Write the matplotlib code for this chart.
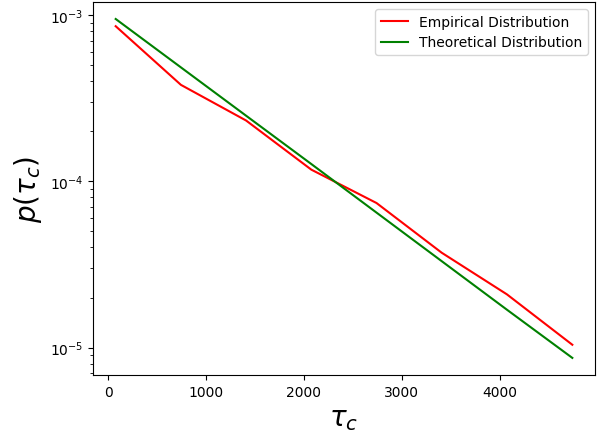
import matplotlib
matplotlib.use("Agg")
import matplotlib.pyplot as plt

# Data
tau = [75, 742, 1408, 2075, 2742, 3408, 4075, 4744]
p_empirical = [8.56e-4, 3.8e-4, 2.32e-4, 1.175e-4, 7.4e-5, 3.72e-5, 2.09e-5, 1.04e-5]
p_theoretical = [9.46e-4, 4.84e-4, 2.48e-4, 1.27e-4, 6.48e-5, 3.31e-5, 1.69e-5, 8.67e-6]

fig = plt.figure(figsize=(6.03, 4.35), dpi=100)
ax = fig.add_subplot(111)
fig.subplots_adjust(left=0.154, right=0.987, top=0.993, bottom=0.136)

ax.plot(tau, p_empirical, color='red', label='Empirical Distribution')
ax.plot(tau, p_theoretical, color='green', label='Theoretical Distribution')
ax.set_yscale('log')

ax.set_xlabel(r'$\tau_c$', fontsize=20)
ax.set_ylabel(r'$p(\tau_c)$', fontsize=20)
ax.legend(loc='upper right')

fig.savefig('out.png')
